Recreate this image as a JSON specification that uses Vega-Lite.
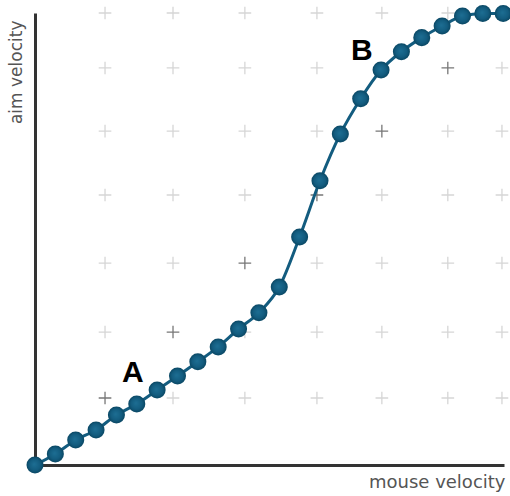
{
  "$schema": "https://vega.github.io/schema/vega-lite/v6.json",
  "width": 469,
  "height": 452,
  "autosize": {"type": "none"},
  "padding": {"left": 35, "top": 13, "right": 6, "bottom": 31},
  "background": "white",
  "config": {"view": {"stroke": null}, "font": "DejaVu Sans"},
  "datasets": {
    "curve": [
      {"mouse": 0, "aim": 0},
      {"mouse": 1, "aim": 0.54},
      {"mouse": 2, "aim": 1.23},
      {"mouse": 3, "aim": 1.72},
      {"mouse": 4, "aim": 2.46},
      {"mouse": 5, "aim": 3.0},
      {"mouse": 6, "aim": 3.68},
      {"mouse": 7, "aim": 4.37},
      {"mouse": 8, "aim": 5.07},
      {"mouse": 9, "aim": 5.8},
      {"mouse": 10, "aim": 6.68},
      {"mouse": 11, "aim": 7.48},
      {"mouse": 12, "aim": 8.74},
      {"mouse": 13, "aim": 11.2},
      {"mouse": 14, "aim": 13.96},
      {"mouse": 15, "aim": 16.26},
      {"mouse": 16, "aim": 17.99},
      {"mouse": 17, "aim": 19.4},
      {"mouse": 18, "aim": 20.3},
      {"mouse": 19, "aim": 20.99},
      {"mouse": 20, "aim": 21.56},
      {"mouse": 21, "aim": 22.05},
      {"mouse": 22, "aim": 22.18},
      {"mouse": 23, "aim": 22.18}
    ],
    "grid": [
      {"gx": 3.44, "gy": 3.29, "tone": "dark"},
      {"gx": 3.44, "gy": 6.53, "tone": "light"},
      {"gx": 3.44, "gy": 9.92, "tone": "light"},
      {"gx": 3.44, "gy": 13.26, "tone": "light"},
      {"gx": 3.44, "gy": 16.4, "tone": "light"},
      {"gx": 3.44, "gy": 19.5, "tone": "light"},
      {"gx": 3.44, "gy": 22.2, "tone": "light"},
      {"gx": 6.78, "gy": 3.29, "tone": "light"},
      {"gx": 6.78, "gy": 6.53, "tone": "dark"},
      {"gx": 6.78, "gy": 9.92, "tone": "light"},
      {"gx": 6.78, "gy": 13.26, "tone": "light"},
      {"gx": 6.78, "gy": 16.4, "tone": "light"},
      {"gx": 6.78, "gy": 19.5, "tone": "light"},
      {"gx": 6.78, "gy": 22.2, "tone": "light"},
      {"gx": 10.31, "gy": 3.29, "tone": "light"},
      {"gx": 10.31, "gy": 6.53, "tone": "light"},
      {"gx": 10.31, "gy": 9.92, "tone": "dark"},
      {"gx": 10.31, "gy": 13.26, "tone": "light"},
      {"gx": 10.31, "gy": 16.4, "tone": "light"},
      {"gx": 10.31, "gy": 19.5, "tone": "light"},
      {"gx": 10.31, "gy": 22.2, "tone": "light"},
      {"gx": 13.85, "gy": 3.29, "tone": "light"},
      {"gx": 13.85, "gy": 6.53, "tone": "light"},
      {"gx": 13.85, "gy": 9.92, "tone": "light"},
      {"gx": 13.85, "gy": 13.26, "tone": "dark"},
      {"gx": 13.85, "gy": 16.4, "tone": "light"},
      {"gx": 13.85, "gy": 19.5, "tone": "light"},
      {"gx": 13.85, "gy": 22.2, "tone": "light"},
      {"gx": 17.04, "gy": 3.29, "tone": "light"},
      {"gx": 17.04, "gy": 6.53, "tone": "light"},
      {"gx": 17.04, "gy": 9.92, "tone": "light"},
      {"gx": 17.04, "gy": 13.26, "tone": "light"},
      {"gx": 17.04, "gy": 16.4, "tone": "dark"},
      {"gx": 17.04, "gy": 19.5, "tone": "light"},
      {"gx": 17.04, "gy": 22.2, "tone": "light"},
      {"gx": 20.28, "gy": 3.29, "tone": "light"},
      {"gx": 20.28, "gy": 6.53, "tone": "light"},
      {"gx": 20.28, "gy": 9.92, "tone": "light"},
      {"gx": 20.28, "gy": 13.26, "tone": "light"},
      {"gx": 20.28, "gy": 16.4, "tone": "light"},
      {"gx": 20.28, "gy": 19.5, "tone": "dark"},
      {"gx": 20.28, "gy": 22.2, "tone": "light"},
      {"gx": 22.94, "gy": 3.29, "tone": "light"},
      {"gx": 22.94, "gy": 6.53, "tone": "light"},
      {"gx": 22.94, "gy": 9.92, "tone": "light"},
      {"gx": 22.94, "gy": 13.26, "tone": "light"},
      {"gx": 22.94, "gy": 16.4, "tone": "light"},
      {"gx": 22.94, "gy": 19.5, "tone": "light"},
      {"gx": 22.94, "gy": 22.2, "tone": "dark"}
    ],
    "labels": [
      {"lx": 4.81, "ly": 4.52, "label": "A"},
      {"lx": 16.06, "ly": 20.33, "label": "B"}
    ]
  },
  "layer": [
    {
      "data": {"name": "grid"},
      "mark": {"type": "point", "shape": "M-1,0L1,0M0,-1L0,1", "filled": false, "strokeWidth": 1.3, "size": 160, "opacity": 1},
      "encoding": {
        "x": {"field": "gx", "type": "quantitative", "scale": {"domain": [0, 23.04], "nice": false, "zero": false},
          "axis": {"title": "mouse velocity", "labels": false, "ticks": false, "grid": false, "domainColor": "#333333", "domainWidth": 3,
            "titleAnchor": "end", "titleAlign": "right", "titleBaseline": "alphabetic", "titleX": 470, "titleY": 22,
            "titleFont": "DejaVu Sans", "titleFontSize": 18, "titleFontWeight": "normal", "titleColor": "#555555"}},
        "y": {"field": "gy", "type": "quantitative", "scale": {"domain": [0, 22.2], "nice": false, "zero": false},
          "axis": {"title": "aim velocity", "labels": false, "ticks": false, "grid": false, "domainColor": "#333333", "domainWidth": 3,
            "titleAngle": 270, "titleAnchor": "end", "titleAlign": "right", "titleBaseline": "middle", "titleX": -19, "titleY": 7,
            "titleFont": "DejaVu Sans", "titleFontSize": 17, "titleFontWeight": "normal", "titleColor": "#555555"}},
        "color": {"field": "tone", "type": "nominal", "scale": {"domain": ["light", "dark"], "range": ["#d6d6d6", "#777777"]}, "legend": null}
      }
    },
    {
      "data": {"name": "curve"},
      "mark": {"type": "line", "color": "#135c7f", "strokeWidth": 3, "interpolate": "monotone"},
      "encoding": {
        "x": {"field": "mouse", "type": "quantitative"},
        "y": {"field": "aim", "type": "quantitative"}
      }
    },
    {
      "data": {"name": "curve"},
      "mark": {"type": "point", "filled": true, "size": 290, "opacity": 1,
        "fill": {"gradient": "radial", "x1": 0.45, "y1": 0.45, "x2": 0.5, "y2": 0.5, "r1": 0, "r2": 0.5,
          "stops": [{"offset": 0, "color": "#1d6e93"}, {"offset": 0.65, "color": "#135c7f"}, {"offset": 1, "color": "#0a4763"}]}},
      "encoding": {
        "x": {"field": "mouse", "type": "quantitative"},
        "y": {"field": "aim", "type": "quantitative"}
      }
    },
    {
      "data": {"name": "labels"},
      "mark": {"type": "text", "font": "Liberation Sans", "fontWeight": "bold", "fontSize": 30, "color": "#000000", "align": "center", "baseline": "middle"},
      "encoding": {
        "x": {"field": "lx", "type": "quantitative"},
        "y": {"field": "ly", "type": "quantitative"},
        "text": {"field": "label"}
      }
    }
  ]
}
